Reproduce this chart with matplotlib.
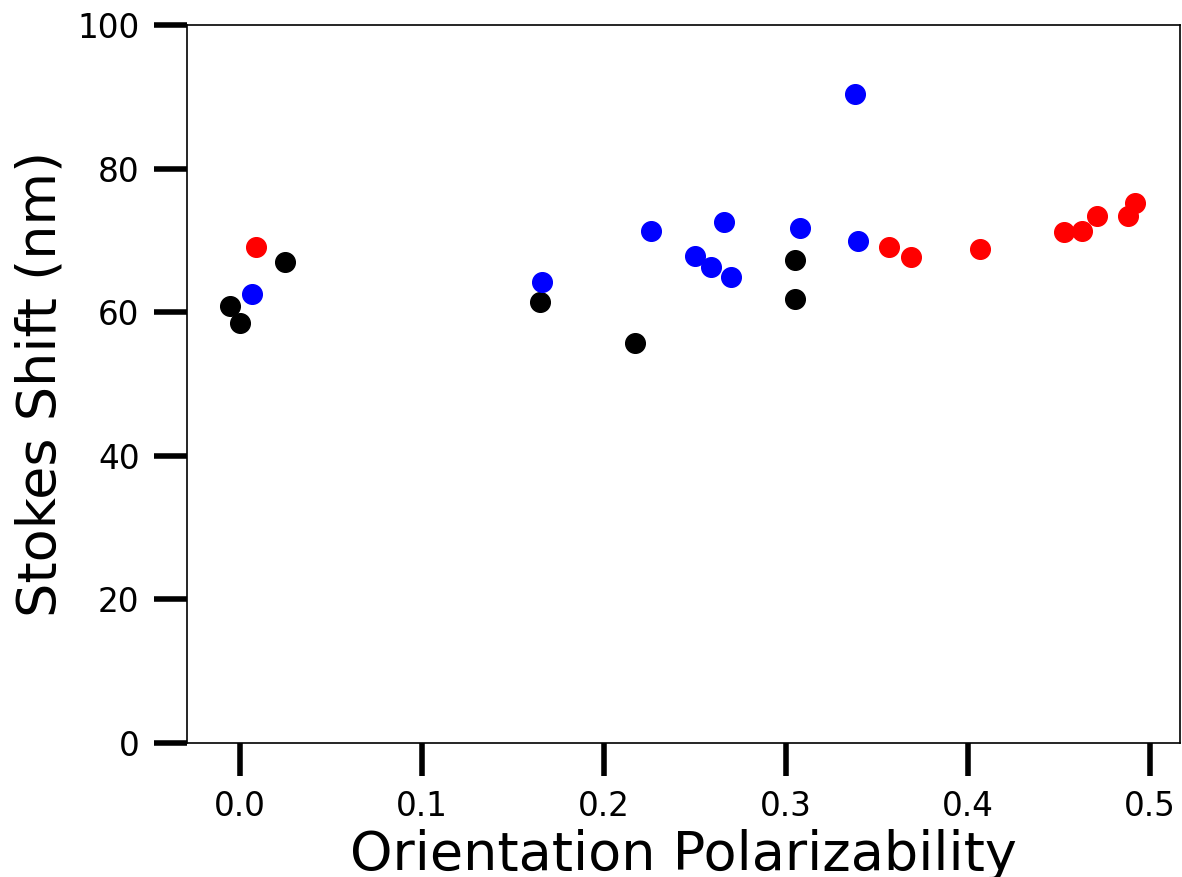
import matplotlib.pyplot as plt

# Data
black_x = [-0.005, 0.000, 0.025, 0.165, 0.2175, 0.305, 0.305]
black_y = [60.9, 58.5, 67.0, 61.4, 55.8, 67.3, 61.8]

red_x = [0.0093, 0.3566, 0.369, 0.407, 0.4527, 0.463, 0.471, 0.488, 0.492]
red_y = [69.1, 69.1, 67.7, 68.9, 71.2, 71.3, 73.4, 73.4, 75.2]

blue_x = [0.007, 0.166, 0.226, 0.2505, 0.259, 0.266, 0.270, 0.3077, 0.338, 0.3396]
blue_y = [62.5, 64.3, 71.4, 67.8, 66.3, 72.6, 65.0, 71.7, 90.5, 69.9]

fig, ax = plt.subplots(figsize=(11.82, 8.77), dpi=100)

ax.scatter(black_x, black_y, s=200, color="black", zorder=3)
ax.scatter(blue_x, blue_y, s=200, color="blue", zorder=3)
ax.scatter(red_x, red_y, s=200, color="red", zorder=3)

ax.set_xlim(-0.029, 0.5165)
ax.set_ylim(0, 100)
ax.set_xticks([0.0, 0.1, 0.2, 0.3, 0.4, 0.5])
ax.set_yticks([0, 20, 40, 60, 80, 100])

ax.tick_params(axis="both", length=24, width=4, labelsize=23.5, pad=10)
for sp in ax.spines.values():
    sp.set_linewidth(1.2)

ax.set_xlabel("Orientation Polarizability", fontsize=39, labelpad=4)
ax.set_ylabel("Stokes Shift (nm)", fontsize=39, labelpad=8)

plt.subplots_adjust(left=0.158, right=0.998, top=0.971, bottom=0.153)
plt.savefig("out.png", dpi=100)
